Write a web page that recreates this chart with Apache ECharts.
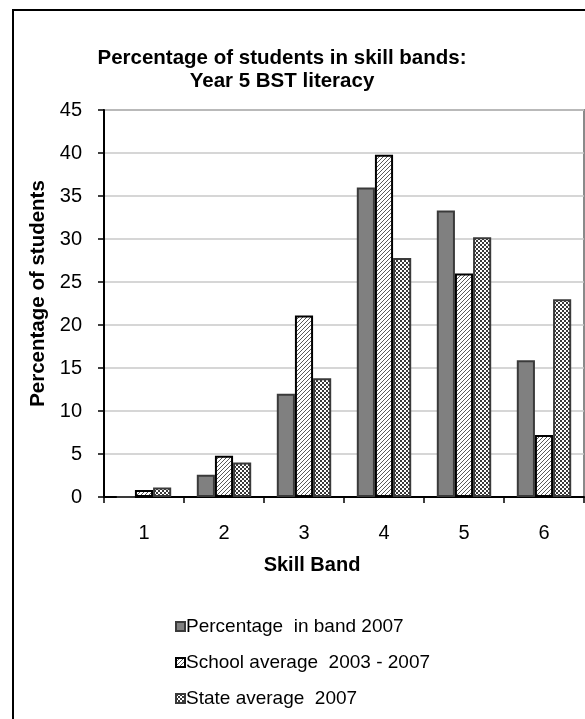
<!DOCTYPE html>
<html>
<head>
<meta charset="utf-8">
<script src="https://cdn.jsdelivr.net/npm/echarts@6/dist/echarts.min.js"></script>
<style>
  html, body { margin: 0; padding: 0; background: #ffffff; }
  #chart { width: 585px; height: 719px; }
</style>
</head>
<body>
<div id="chart"></div>
<script>
// Skill bands on the category axis
const bands = ['1', '2', '3', '4', '5', '6'];

// Percentage of students per band
const bandPct2007 = [0, 2.6, 12.0, 36.0, 33.3, 15.9];
const schoolAvg2003to2007 = [0.8, 4.8, 21.1, 39.8, 26.0, 7.2];
const stateAvg2007 = [1.1, 4.0, 13.8, 27.8, 30.2, 23.0];

// Value axis ticks
const yMin = 0, yMax = 45, yStep = 5;

const seriesNames = ['Percentage  in band 2007', 'School average  2003 - 2007', 'State average  2007'];

// Small repeating fills for the patterned bars
function makePattern(size, painter) {
  const c = document.createElement('canvas');
  c.width = size; c.height = size;
  const g = c.getContext('2d');
  g.fillStyle = '#ffffff';
  g.fillRect(0, 0, size, size);
  painter(g, size);
  return { image: c, repeat: 'repeat' };
}

// forward-slash hatching
const hatchFill = makePattern(4, (g, s) => {
  g.fillStyle = '#5a5a5a';
  for (let i = 0; i < s; i++) g.fillRect(s - 1 - i, i, 1, 1);
});

// fine checkerboard
const checkFill = makePattern(4, (g, s) => {
  g.fillStyle = '#3a3a3a';
  for (let y = 0; y < s; y++) {
    for (let x = 0; x < s; x++) {
      if ((Math.floor(x / 2) + Math.floor(y / 2)) % 2 === 0) g.fillRect(x, y, 1, 1);
    }
  }
});

const FONT = '"Liberation Sans", Arial, sans-serif';

const chart = echarts.init(document.getElementById('chart'), null, { renderer: 'canvas' });

chart.setOption({
  animation: false,
  backgroundColor: '#ffffff',
  title: {
    text: 'Percentage of students in skill bands:\nYear 5 BST literacy',
    left: 277,
    top: 42,
    textAlign: 'center',
    textStyle: {
      fontFamily: FONT,
      fontSize: 20.5,
      fontWeight: 'bold',
      color: '#000000',
      lineHeight: 23
    }
  },
  graphic: [{
    type: 'rect',
    z: -1,
    silent: true,
    shape: { x: 13, y: 10, width: 700, height: 800 },
    style: { fill: 'none', stroke: '#000000', lineWidth: 2 }
  }],
  legend: {
    orient: 'vertical',
    left: 170,
    top: 612,
    itemWidth: 9,
    itemHeight: 9,
    itemGap: 17,
    icon: 'rect',
    textStyle: { fontFamily: FONT, fontSize: 19, color: '#000000', padding: [0, 0, 0, -4] },
    data: seriesNames
  },
  grid: {
    left: 104,
    right: 1,
    top: 110,
    bottom: 222,
    show: true,
    borderColor: '#8a8a8a',
    borderWidth: 2,
    backgroundColor: 'transparent'
  },
  xAxis: {
    type: 'category',
    data: bands,
    name: 'Skill Band',
    nameLocation: 'middle',
    nameGap: 58,
    nameTextStyle: {
      fontFamily: FONT, fontSize: 20, fontWeight: 'bold', color: '#000000',
      padding: [0, 64, 0, 0]
    },
    axisLine: { lineStyle: { color: '#000000', width: 2 } },
    axisTick: { show: true, length: 6, lineStyle: { color: '#000000', width: 1.5 } },
    axisLabel: { fontFamily: FONT, fontSize: 20, color: '#000000', margin: 26 },
    splitLine: { show: false }
  },
  yAxis: {
    type: 'value',
    min: yMin,
    max: yMax,
    interval: yStep,
    name: 'Percentage of students',
    nameLocation: 'middle',
    nameGap: 51,
    nameTextStyle: {
      fontFamily: FONT, fontSize: 20.5, fontWeight: 'bold', color: '#000000',
      padding: [0, 0, 0, 20]
    },
    axisLine: { show: true, lineStyle: { color: '#000000', width: 2 } },
    axisTick: { show: true, length: 6, lineStyle: { color: '#000000', width: 1.5 } },
    axisLabel: { fontFamily: FONT, fontSize: 20, color: '#000000', margin: 22 },
    splitLine: { show: true, lineStyle: { color: '#c8c8c8', width: 1.5 } }
  },
  series: [
    {
      name: seriesNames[0],
      type: 'bar',
      data: bandPct2007,
      barGap: '0%',
      barCategoryGap: '32%',
      itemStyle: { color: '#808080', borderColor: '#3a3a3a', borderWidth: 2 }
    },
    {
      name: seriesNames[1],
      type: 'bar',
      data: schoolAvg2003to2007,
      barGap: '0%',
      barCategoryGap: '32%',
      itemStyle: { color: hatchFill, borderColor: '#000000', borderWidth: 2 }
    },
    {
      name: seriesNames[2],
      type: 'bar',
      data: stateAvg2007,
      barGap: '0%',
      barCategoryGap: '32%',
      itemStyle: { color: checkFill, borderColor: '#3a3a3a', borderWidth: 2 }
    }
  ]
});
</script>
</body>
</html>
